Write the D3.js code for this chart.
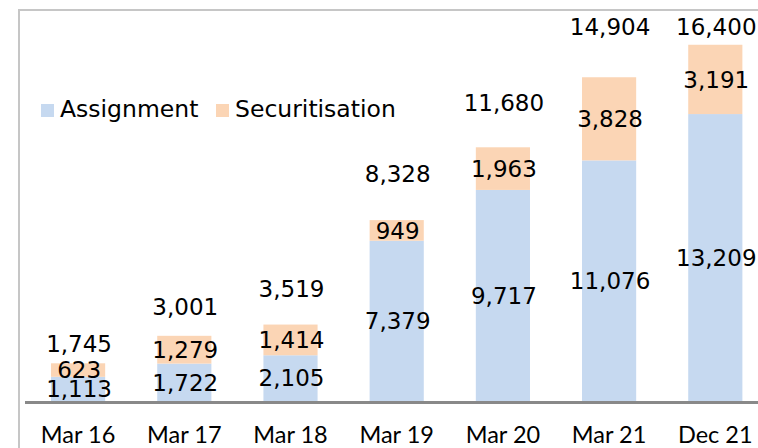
<!DOCTYPE html>
<html>
<head>
<meta charset="utf-8">
<script src="https://cdn.jsdelivr.net/npm/d3@7"></script>
<style>
  body { margin: 0; background: #fff; }
  svg { display: block; }
  .val { font-family: "DejaVu Sans", sans-serif; font-size: 23px; fill: #000; }
  .tick-label { font-family: Lato, "Open Sans", sans-serif; font-size: 23.5px; fill: #000; }
</style>
</head>
<body>
<div id="chart"></div>
<script>
// Data
const PERIODS = ["Mar 16", "Mar 17", "Mar 18", "Mar 19", "Mar 20", "Mar 21", "Dec 21"];
const ASSIGNMENT = [1113, 1722, 2105, 7379, 9717, 11076, 13209];
const SECURITISATION = [623, 1279, 1414, 949, 1963, 3828, 3191];
const TOTALS = [1745, 3001, 3519, 8328, 11680, 14904, 16400];
const SERIES_NAMES = ["Assignment", "Securitisation"];

// Layout
const FRAME_WIDTH = 758;
const FRAME_HEIGHT = 448;
const PLOT = {left: 25, right: 768.4, top: 10, bottom: 401};
const COLORS = ["#c6d9f0", "#fbd5b5"];
// gap (px) between bar top and total label baseline
const TOTAL_GAP = [11, 21, 27.5, 38, 36.5, 42.5, 10];

const FRAME = d3.select("#chart")
                .append("svg")
                  .attr("width", FRAME_WIDTH)
                  .attr("height", FRAME_HEIGHT);

// outer chart border (runs off the right/bottom edge)
FRAME.append("rect")
    .attr("x", 19).attr("y", 10)
    .attr("width", 800).attr("height", 500)
    .attr("fill", "none")
    .attr("stroke", "#c6c6c6")
    .attr("stroke-width", 2);

const X_SCALE = d3.scaleBand()
                  .domain(PERIODS)
                  .range([PLOT.left, PLOT.right])
                  .paddingInner(0.49)
                  .paddingOuter(0.245);

const Y_SCALE = d3.scaleLinear()
                  .domain([0, 18000])
                  .range([PLOT.bottom, PLOT.top]);

const rows = PERIODS.map((p, i) => ({
  period: p, Assignment: ASSIGNMENT[i], Securitisation: SECURITISATION[i]
}));
const stacked = d3.stack().keys(SERIES_NAMES)(rows);

// bars
stacked.forEach((layer, k) => {
  FRAME.append("g").selectAll("rect")
      .data(layer)
      .enter()
      .append("rect")
        .attr("x", (d) => X_SCALE(d.data.period))
        .attr("y", (d) => Y_SCALE(d[1]))
        .attr("width", X_SCALE.bandwidth())
        .attr("height", (d) => Y_SCALE(d[0]) - Y_SCALE(d[1]))
        .attr("fill", COLORS[k]);
});

// segment labels
stacked.forEach((layer) => {
  FRAME.append("g").selectAll("text")
      .data(layer)
      .enter()
      .append("text")
        .attr("class", "val")
        .attr("x", (d) => X_SCALE(d.data.period) + X_SCALE.bandwidth() / 2 + 1)
        .attr("y", (d) => (Y_SCALE(d[0]) + Y_SCALE(d[1])) / 2)
        .attr("dy", "0.36em")
        .attr("text-anchor", "middle")
        .text((d) => d3.format(",")(d[1] - d[0]));
});

// totals
FRAME.append("g").selectAll("text")
    .data(TOTALS)
    .enter()
    .append("text")
      .attr("class", "val")
      .attr("x", (d, i) => X_SCALE(PERIODS[i]) + X_SCALE.bandwidth() / 2 + 1)
      .attr("y", (d, i) => Y_SCALE(d) - TOTAL_GAP[i])
      .attr("text-anchor", "middle")
      .text((d) => d3.format(",")(d));

// x axis
const xAxis = FRAME.append("g")
    .attr("transform", "translate(0," + (PLOT.bottom + 1.5) + ")")
    .call(d3.axisBottom(X_SCALE).tickSize(0).tickPadding(0));
xAxis.select(".domain")
    .attr("d", "M" + PLOT.left + ",0H" + FRAME_WIDTH)
    .attr("stroke", "#898989")
    .attr("stroke-width", 3);
xAxis.selectAll(".tick text")
    .attr("class", "tick-label")
    .attr("dy", null)
    .attr("y", 40.5)
    .attr("font-size", null)
    .attr("font-family", null);

// legend
const legend = FRAME.append("g").attr("transform", "translate(41,104)");
const legendX = [0, 175];
SERIES_NAMES.forEach((name, k) => {
  legend.append("rect")
      .attr("x", legendX[k]).attr("y", 0)
      .attr("width", 13).attr("height", 13)
      .attr("fill", COLORS[k]);
  legend.append("text")
      .attr("class", "val")
      .style("font-size", "23.5px")
      .attr("x", legendX[k] + 19).attr("y", 13)
      .text(name);
});
</script>
</body>
</html>
